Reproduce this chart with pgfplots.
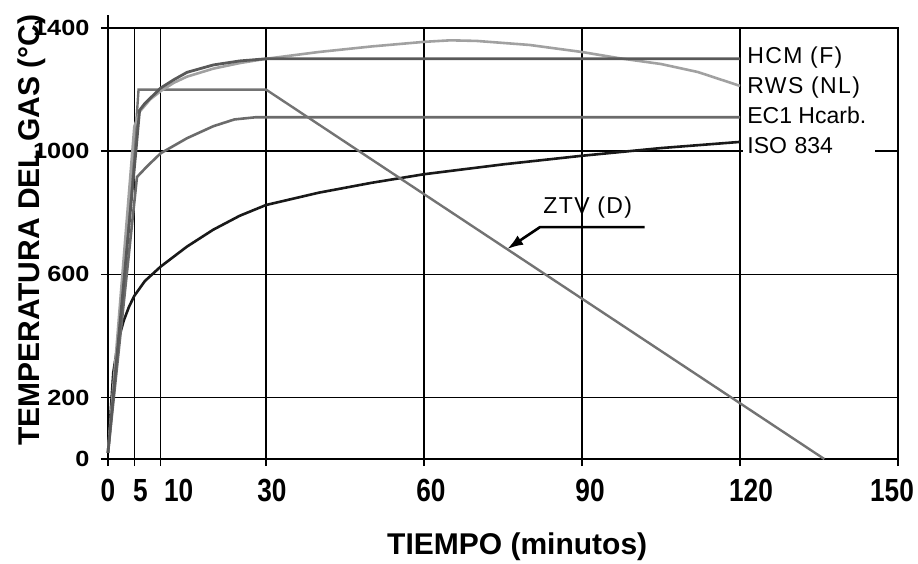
\documentclass[border=0pt]{standalone}
\usepackage{fontspec}
\setmainfont{Liberation Sans}
\newfontfamily\xtf{Liberation Sans Bold}[FakeStretch=0.82]
\newfontfamily\ytf{Liberation Sans Bold}[FakeStretch=1.15]
\newfontfamily\lsp{Liberation Sans}[LetterSpace=6]
\usepackage{pgfplots}
\pgfplotsset{compat=1.18}
\usetikzlibrary{arrows.meta,calc}
\definecolor{hcm}{gray}{0.35}
\definecolor{rws}{gray}{0.63}
\definecolor{ecc}{gray}{0.42}
\definecolor{iso}{gray}{0.10}
\definecolor{ztv}{gray}{0.45}
\begin{document}
\begin{tikzpicture}
\begin{axis}[
  scale only axis, width=790pt, height=431pt,
  xmin=0, xmax=150, ymin=0, ymax=1400,
  clip=false,
  xtick={0,5,10,30,60,90,120,150},
  xticklabels={0,\hspace*{12pt}5,\hspace*{36pt}10,\hspace*{12pt}30,\hspace*{14pt}60,\hspace*{16pt}90,\hspace*{22pt}120,\hspace*{-12pt}150},
  ytick={0,200,600,1000,1400},
  yticklabels={0,200,600,1000,1400},
  tick pos=left, tick align=outside,
  major tick length=7pt,
  tick style={black, line width=1.5pt},
  axis line style={black, line width=1.5pt},
  grid=major,
  major grid style={black, line width=1.5pt},
  xticklabel style={font=\xtf\fontsize{32}{34}\selectfont, yshift=-10pt},
  yticklabel style={font=\ytf\fontsize{22}{24}\selectfont, xshift=-8pt},
]
% ISO 834
\addplot[iso, line width=2.6pt] coordinates {
(0,20)(1,280)(2,390)(3,450)(4,495)(5,530)(7,578)(10,625)(15,690)(20,745)(25,790)(30,825)(40,865)(50,897)(60,925)(75,957)(90,985)(105,1010)(120,1030)};
% EC1 Hydrocarbon
\addplot[ecc, line width=2.6pt] coordinates {
(0,20)(5.5,916)(7.5,952)(10,993)(15,1042)(20,1081)(24,1103)(28,1110)(120,1110)};
% ZTV (D)
\addplot[ztv, line width=2.4pt] coordinates {
(0,20)(5,1000)(5.8,1200)(30,1200)(136,0)};
% RWS (NL)
\addplot[rws, line width=2.6pt] coordinates {
(0,20)(5,1080)(6,1128)(8,1168)(10,1195)(12.5,1222)(15,1242)(20,1268)(25,1286)(30,1300)(40,1322)(50,1340)(60,1355)(65,1360)(70,1358)(80,1345)(90,1322)(97,1302)(105,1283)(112,1257)(120,1212)};
% HCM (F)
\addplot[hcm, line width=2.8pt] coordinates {
(0,20)(5.3,1000)(6,1133)(7,1155)(8.5,1180)(10,1205)(12.5,1232)(15,1256)(20,1280)(25,1293)(30,1300)(120,1300)};
% labels
\node[anchor=base west, inner xsep=4pt, font=\lsp\fontsize{23}{25}\selectfont] at (axis cs:120.6,1286) {HCM (F)};
\node[anchor=base west, inner xsep=4pt, font=\lsp\fontsize{23}{25}\selectfont] at (axis cs:120.6,1188) {RWS (NL)};
\node[anchor=base west, inner xsep=4pt, font=\fontsize{23}{25}\selectfont] at (axis cs:120.6,1091) {EC1 Hcarb.};
\node[anchor=base west, inner xsep=4pt, inner ysep=3pt, fill=white, text width=124pt, align=left, font=\fontsize{23}{25}\selectfont] at (axis cs:120.6,993) {ISO 834};
\node[anchor=base, font=\lsp\fontsize{23}{25}\selectfont] at (axis cs:91.1,799) {ZTV (D)};
\draw[black, line width=2.6pt, -{Latex[length=16pt,width=11pt]}] (axis cs:101.9,753) -- (axis cs:82,753) -- (axis cs:75.8,682);
\draw[black, line width=1.5pt] (axis cs:0,1400) -- (axis cs:0,1442);
% axis titles
\node[anchor=base, font=\bfseries\fontsize{30}{32}\selectfont] at (axis description cs:0.518,-0.2227) {TIEMPO (minutos)};
\node[anchor=base, rotate=90, font=\bfseries\fontsize{30}{32}\selectfont] at (axis description cs:-0.0873,0.531) {TEMPERATURA DEL GAS (°C)};
\end{axis}
\pgfresetboundingbox
\path ([shift={(-108pt,-104pt)}]current axis.south west) rectangle ([shift={(20pt,28pt)}]current axis.north east);
\end{tikzpicture}
\end{document}
